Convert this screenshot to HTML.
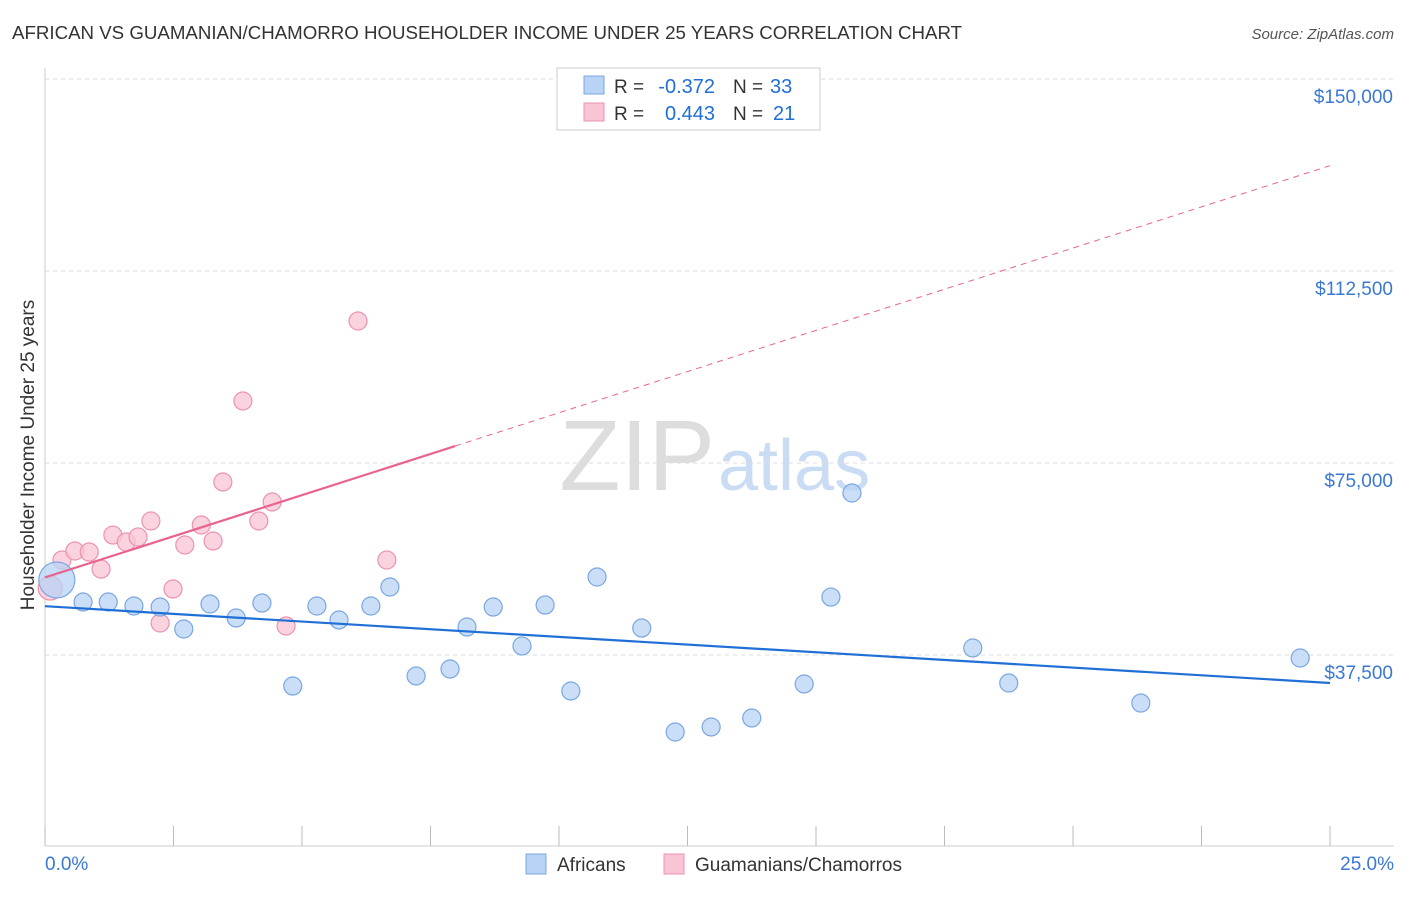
<!DOCTYPE html>
<html><head><meta charset="utf-8"><style>
body{margin:0;background:#fff;font-family:"Liberation Sans",sans-serif}
svg text{font-family:"Liberation Sans",sans-serif}
</style></head><body>
<svg id="c" width="1406" height="892">
<text x="12" y="39" font-size="18.7" fill="#333">AFRICAN VS GUAMANIAN/CHAMORRO HOUSEHOLDER INCOME UNDER 25 YEARS CORRELATION CHART</text>
<text x="1394" y="39" font-size="15" fill="#555" font-style="italic" text-anchor="end">Source: ZipAtlas.com</text>
<text x="715" y="490" font-size="100" fill="#ddd" text-anchor="end" font-family="Liberation Serif">ZIP</text>
<text x="718" y="490" font-size="72" fill="#c9dcf3">atlas</text>
<text x="34" y="455" font-size="19" fill="#333" text-anchor="middle" transform="rotate(-90 34 455)">Householder Income Under 25 years</text>
<g id="grid"></g><g id="marks"></g>
<g>
<rect x="557" y="68" width="263" height="62" fill="#fff" stroke="#ccc"/>
<rect x="584" y="76" width="20" height="18" fill="#b8d3f5" stroke="#7aa7e0"/>
<rect x="584" y="103" width="20" height="18" fill="#f9c4d4" stroke="#ec92b0"/>
<text x="614" y="93" font-size="19" fill="#333">R =</text>
<text x="715" y="93" font-size="20" fill="#1f6fd6" text-anchor="end">-0.372</text>
<text x="733" y="93" font-size="19" fill="#333">N =</text>
<text x="770" y="93" font-size="20" fill="#1f6fd6">33</text>
<text x="614" y="120" font-size="19" fill="#333">R =</text>
<text x="715" y="120" font-size="20" fill="#1f6fd6" text-anchor="end">0.443</text>
<text x="733" y="120" font-size="19" fill="#333">N =</text>
<text x="773" y="120" font-size="20" fill="#1f6fd6">21</text>
</g>
<g>
<rect x="526" y="854" width="20" height="20" fill="#b8d3f5" stroke="#7aa7e0"/>
<text x="557" y="871" font-size="19" fill="#333">Africans</text>
<rect x="664" y="854" width="20" height="20" fill="#f9c4d4" stroke="#ec92b0"/>
<text x="695" y="871" font-size="19" fill="#333">Guamanians/Chamorros</text>
</g>
</svg>
<script>
const yTicks=[37500,75000,112500,150000];
const yTickLabels=["$37,500","$75,000","$112,500","$150,000"];
const xTicks=[0,2.5,5,7.5,10,12.5,15,17.5,20,22.5,25];
const africanX=[0.23,0.74,1.23,1.73,2.24,2.70,3.21,3.72,4.22,4.82,5.29,5.72,6.34,6.71,7.22,7.88,8.21,8.72,9.28,9.73,10.23,10.74,11.61,12.26,12.96,13.75,14.77,15.29,15.70,18.05,18.75,21.32,24.42];
const africanY=[52150,47850,47850,47070,46870,42580,47460,44730,47650,31440,47070,44340,47070,50780,33400,34770,42970,46870,39260,47260,30470,52730,42770,22460,23440,25200,31840,48820,69140,38870,32030,28120,36910];
const guamX=[0.10,0.33,0.58,0.86,1.09,1.32,1.58,1.81,2.06,2.24,2.49,2.72,3.04,3.27,3.46,3.85,4.16,4.42,4.69,6.09,6.65];
const guamY=[50580,56050,57810,57610,54290,60930,59570,60540,63670,43750,50390,58980,62890,59770,71290,87110,63670,67380,43160,102730,56050];
const NS="http://www.w3.org/2000/svg";
const X=v=>45+v/25*1285, Y=v=>847-v/37500*192;
function mk(t,a,p){const e=document.createElementNS(NS,t);for(const k in a)e.setAttribute(k,a[k]);(p||document.getElementById('marks')).appendChild(e);return e;}
const g=document.getElementById('grid');
yTicks.forEach((t,i)=>{
 const l=mk('line',{x1:45,x2:1394,y1:Y(t),y2:Y(t),stroke:'#ddd','stroke-dasharray':'4,4'},g);
 
 
 const tx=mk('text',{x:1393,y:Y(t)+24,'font-size':19,fill:'#3a78d4','text-anchor':'end'},g);tx.textContent=yTickLabels[i];
 
 
});
mk('line',{x1:45,x2:45,y1:68,y2:846,stroke:'#ccc'},g);
mk('line',{x1:45,x2:1394,y1:846,y2:846,stroke:'#ccc'},g);
xTicks.forEach(t=>{const l=mk('line',{x1:X(t),x2:X(t),y1:826,y2:846,stroke:'#bbb'},g);
 
 });
let t0=mk('text',{x:45,y:870,'font-size':19,fill:'#3a78d4'},g);t0.textContent="0.0%";


let t1=mk('text',{x:1394,y:870,'font-size':19,fill:'#3a78d4','text-anchor':'end'},g);t1.textContent="25.0%";


function fit(xs,ys){const n=xs.length,mx=xs.reduce((a,b)=>a+b)/n,my=ys.reduce((a,b)=>a+b)/n;let sxy=0,sxx=0;xs.forEach((x,i)=>{sxy+=(x-mx)*(ys[i]-my);sxx+=(x-mx)**2});const b=sxy/sxx;return [my-b*mx,b];}
function dots(xs,ys,fill,stroke,name,bigR){xs.forEach((x,i)=>{const c=mk('circle',{cx:X(x),cy:Y(ys[i]),r:i==0?bigR:9,fill,'fill-opacity':0.75,stroke,'stroke-width':1.2});
 
 });}
dots(guamX,guamY,'#f9c4d4','#ec92b0','guamanian-point',12);
dots(africanX,africanY,'#b8d3f5','#7aa7e0','african-point',18);
let [a,b]=fit(africanX,africanY);
let bl=mk('line',{x1:X(0),y1:Y(a),x2:X(25),y2:Y(a+b*25),stroke:'#1f6fd6','stroke-width':2.2});


[a,b]=fit(guamX,guamY);
const xe=Math.max(...guamX)*1.2;
let pl=mk('line',{x1:X(0),y1:Y(a),x2:X(xe),y2:Y(a+b*xe),stroke:'#e8648e','stroke-width':2.2});


let pd=mk('line',{x1:X(xe),y1:Y(a+b*xe),x2:X(25),y2:Y(a+b*25),stroke:'#e8648e','stroke-width':1,'stroke-dasharray':'6,5'});


</script>
</body></html>
